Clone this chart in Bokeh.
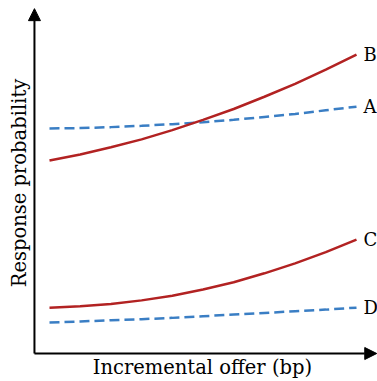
from bokeh.plotting import figure
from bokeh.models import Range1d, Arrow, NormalHead, Label, ColumnDataSource
from bokeh.core.properties import value
from bokeh.embed import file_html
from bokeh.resources import INLINE

# Data (incremental offer, arbitrary units; response probability)
offer = [0, 1, 2, 3, 4, 5, 6, 7, 8, 9, 10]
prob_A = [0.682, 0.683, 0.686, 0.690, 0.695, 0.701, 0.708, 0.717, 0.726, 0.737, 0.748]
prob_B = [0.585, 0.603, 0.625, 0.649, 0.677, 0.708, 0.741, 0.778, 0.817, 0.860, 0.906]
prob_C = [0.139, 0.143, 0.150, 0.161, 0.175, 0.194, 0.216, 0.243, 0.273, 0.307, 0.345]
prob_D = [0.094, 0.097, 0.101, 0.104, 0.108, 0.113, 0.118, 0.123, 0.128, 0.133, 0.139]
series_names = ["A", "B", "C", "D"]
x_label = "Incremental offer (bp)"
y_label = "Response probability"

RED = "#b22222"
BLUE = "#3a7ec4"
FONT = "DejaVu Serif"
FS_AXIS = "19.5px"
FS_SERIES = "18px"

p = figure(width=377, height=381, output_backend="svg", toolbar_location=None,
           x_range=Range1d(-1.596, 10.684), y_range=Range1d(-0.0848, 1.0697),
           min_border=0, min_border_left=0, min_border_right=0,
           min_border_top=0, min_border_bottom=0)
p.axis.visible = False
p.grid.visible = False
p.outline_line_color = None
p.background_fill_color = "white"
p.border_fill_color = "white"

x_axis_pos = -0.49
# axes with arrows
p.add_layout(Arrow(end=NormalHead(size=12, fill_color="black", line_color="black"),
                   x_start=x_axis_pos, y_start=0, x_end=x_axis_pos, y_end=1.045,
                   line_width=2, line_color="black"))
p.add_layout(Arrow(end=NormalHead(size=12, fill_color="black", line_color="black"),
                   x_start=x_axis_pos, y_start=0, x_end=10.66, y_end=0,
                   line_width=2, line_color="black"))

styles = {"A": (prob_A, BLUE, "10 5"), "B": (prob_B, RED, "solid"),
          "C": (prob_C, RED, "solid"), "D": (prob_D, BLUE, "10 5")}
for name in series_names:
    ys, col, dash = styles[name]
    p.line(offer, ys, line_color=col, line_width=2.5, line_dash=dash)

src = ColumnDataSource(dict(x=[offer[-1]] * 4,
                            y=[prob_A[-1], prob_B[-1], prob_C[-1], prob_D[-1]],
                            t=series_names))
p.text(x="x", y="y", text="t", source=src, x_offset=7, text_align="left",
       text_baseline="middle", text_font=value(FONT), text_font_size=FS_SERIES,
       text_color="black")

p.add_layout(Label(x=4.98, y=-0.043, text=x_label, text_align="center",
                   text_baseline="middle", text_font=FONT, text_font_size=FS_AXIS,
                   text_color="black"))
p.add_layout(Label(x=-0.98, y=0.5167, text=y_label, angle=1.5708, angle_units="rad",
                   text_align="center", text_baseline="middle", text_font=FONT,
                   text_font_size=FS_AXIS, text_color="black"))

open("out.html", "w").write(file_html(p, INLINE))
